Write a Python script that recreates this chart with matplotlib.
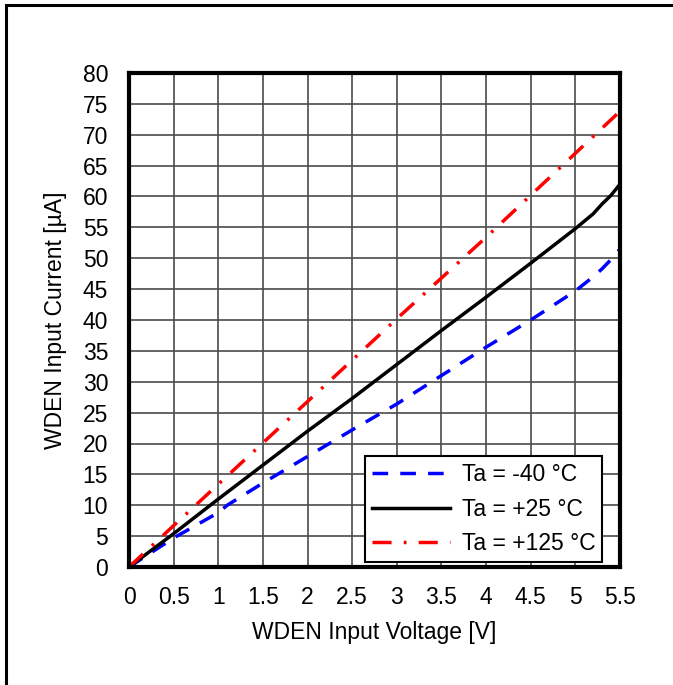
import matplotlib
matplotlib.use("Agg")
import matplotlib.pyplot as plt
from matplotlib.patches import Rectangle

plt.rcParams['font.family'] = ['Liberation Sans', 'DejaVu Sans']

# Data
v_neg40 = [0, 0.5, 1.0, 1.1, 1.5, 2.0, 2.5, 3.0, 3.5, 4.0, 4.5, 5.0, 5.2, 5.3, 5.4, 5.5]
i_neg40 = [0, 4.7, 8.8, 10.0, 13.6, 17.9, 22.2, 26.4, 31.0, 35.6, 40.0, 44.7, 47.0, 48.3, 49.8, 51.5]

v_25 = [0, 0.5, 1.0, 1.5, 2.0, 2.5, 3.0, 3.5, 4.0, 4.5, 5.0, 5.2, 5.3, 5.4, 5.5]
i_25 = [0, 5.4, 11.0, 16.5, 22.0, 27.3, 32.8, 38.3, 43.7, 49.2, 54.8, 57.2, 58.8, 60.2, 62.0]

v_125 = [0, 0.5, 1.0, 1.5, 2.0, 2.5, 3.0, 3.5, 4.0, 4.5, 5.0, 5.5]
i_125 = [0, 6.7, 13.4, 20.1, 26.8, 33.5, 40.2, 46.8, 53.4, 60.2, 67.0, 73.8]

labels = ["Ta = -40 °C", "Ta = +25 °C", "Ta = +125 °C"]
x_ticks = [0, 0.5, 1, 1.5, 2, 2.5, 3, 3.5, 4, 4.5, 5, 5.5]
x_ticklabels = ["0", "0.5", "1", "1.5", "2", "2.5", "3", "3.5", "4", "4.5", "5", "5.5"]
y_ticks = list(range(0, 81, 5))

FS = 16.5

fig = plt.figure(figsize=(6.73, 6.85), dpi=100)
ax = fig.add_axes([129/673, 1-567/685, (620-129)/673, (567-73)/685])

ax.plot(v_neg40, i_neg40, color='#0000ff', lw=2.5, linestyle=(0, (4.5, 3.5)), label=labels[0])
ax.plot(v_25, i_25, color='black', lw=2.5, label=labels[1])
ax.plot(v_125, i_125, color='#ff0000', lw=2.5, linestyle=(0, (5.5, 3.5, 0.8, 3.5)), label=labels[2])

ax.set_xlim(0, 5.5)
ax.set_ylim(0, 80)
ax.set_xticks(x_ticks)
ax.set_xticklabels(x_ticklabels)
ax.set_yticks(y_ticks)
ax.tick_params(axis='x', length=0, labelsize=FS, pad=14)
ax.tick_params(axis='y', length=0, labelsize=FS, pad=15)
ax.grid(True, color='#4a4a4a', lw=1.2)
ax.set_axisbelow(True)
for s in ax.spines.values():
    s.set_linewidth(3)
    s.set_color('black')

ax.set_xlabel("WDEN Input Voltage [V]", fontsize=FS, labelpad=8)
ax.set_ylabel("WDEN Input Current [µA]", fontsize=FS, labelpad=11)

leg = ax.legend(loc='lower right', bbox_to_anchor=(602/673, 1-562/685), bbox_transform=fig.transFigure,
                fontsize=FS, frameon=True, fancybox=False, edgecolor='black', framealpha=1,
                handlelength=3.4, handletextpad=0.5, borderpad=0.3, labelspacing=0.5,
                borderaxespad=0)
leg.get_frame().set_linewidth(1.5)

fig.patches.append(Rectangle((6/673, -0.05), 1.2, 1.05 - 5/685, transform=fig.transFigure,
                             fill=False, edgecolor='black', lw=2.2, figure=fig))

fig.savefig("out.png", dpi=100)
